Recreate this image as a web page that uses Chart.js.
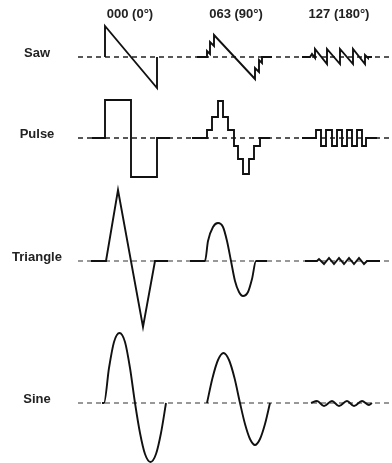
<!DOCTYPE html>
<html>
<head>
<meta charset="utf-8">
<script src="https://cdn.jsdelivr.net/npm/chart.js@4"></script>
<style>
  body { margin: 0; background: #fff; }
</style>
</head>
<body>
<canvas id="myChart" width="392" height="463"></canvas>
<script>
// rows / columns of the diagram
var rowNames = ['Saw', 'Pulse', 'Triangle', 'Sine'];
var baselines = [57, 138, 261, 403];
var colNames = ['000 (0°)', '063 (90°)', '127 (180°)'];
var colCenters = [130, 236, 339];

// waveforms: [time, level above the dashed zero line]
var saw000 = [[105,0],[105,31],[157,-31],[157,0]];
var saw063 = [[197,0],[207,0],[207,6],[210,3],[210,15],[214,11],[214,22],[255,-22],[255,-11],[259,-15],[259,-3],[262,-6],[262,0],[272,0]];
var saw127 = [[302,0],[310,0],[312,3],[315,-1],[315,8],[327,-7],[327,8],[340,-7],[340,8],[353,-7],[353,8],[365,-7],[365,2],[368,-1],[368,0],[372,0]];

var pulse000 = [[92,0],[105,0],[105,38],[131,38],[131,-39],[157,-39],[157,0],[170,0]];
var pulse063 = [[192,0],[207,0],[207,8],[212,8],[212,21],[218,21],[218,37],[223,37],[223,21],[228,21],[228,8],[234,8],[234,-8],[238,-8],[238,-21],[243,-21],[243,-36],[249,-36],[249,-21],[254,-21],[254,-8],[260,-8],[260,0],[270,0]];
var pulse127 = [[302,0],[316,0],[316,8],[321,8],[321,-8],[326,-8],[326,8],[332,8],[332,-8],[337,-8],[337,8],[342,8],[342,-8],[347,-8],[347,8],[352,8],[352,-8],[357,-8],[357,8],[362,8],[362,-8],[366,-8],[366,0],[377,0]];

var tri000 = [[91,0],[106,0],[118,71],[143,-66],[155,0],[168,0]];
var tri063 = [[190,0],[205,0],[208,20],[213,34],[218,38],[223,34],[227,20],[231,0],[235,-20],[239,-31],[243,-35],[248,-31],[252,-18],[256,0],[267,0]];
var tri127 = [[305,0],[317,0],[319,2],[324,-3],[329,3],[334,-3],[339,3],[344,-3],[349,3],[354,-3],[359,3],[364,-3],[367,0],[380,0]];

var sine000 = [[102,0],[104,0],[109,35],[114,61],[119.5,70],[125,61],[130,35],[135,0],[140,-30],[145,-51],[150.5,-59],[156,-51],[161,-30],[166,0]];
var sine063 = [[207,0],[212.5,25],[218,43],[223.5,50],[229,43],[234.5,25],[240,0],[245,-21],[250,-36],[255,-42],[260,-36],[265,-21],[270,0]];
var sine127 = [[311,0],[317,2],[324,-3],[332,2],[339,-3],[347,2],[354,-3],[362,2],[369,-2],[372,0]];

var waves = [
	[saw000, saw063, saw127],
	[pulse000, pulse063, pulse127],
	[tri000, tri063, tri127],
	[sine000, sine063, sine127]
];
var smooth = [
	[false, false, false],
	[false, false, false],
	[false, true, false],
	[true, true, true]
];
var dashColors = ['#222', '#222', '#777', '#777'];

var datasets = [];

for (var r = 0; r < rowNames.length; r++) {
	// dashed zero line for the row
	datasets.push({
		data: [{x: 78, y: baselines[r]}, {x: 392, y: baselines[r]}],
		borderColor: dashColors[r],
		borderWidth: 1.5,
		borderDash: [5, 4],
		pointRadius: 0,
		order: 2
	});
	for (var c = 0; c < 3; c++) {
		var pts = waves[r][c].map(function(p) {
			return {x: p[0], y: baselines[r] - p[1]};
		});
		datasets.push({
			data: pts,
			borderColor: '#111',
			borderWidth: 1.9,
			borderJoinStyle: 'miter',
			pointRadius: 0,
			cubicInterpolationMode: smooth[r][c] ? 'monotone' : 'default',
			tension: 0,
			order: 1
		});
	}
}

var textPlugin = {
	id: 'texts',
	afterDraw: function(chart) {
		var ctx = chart.ctx;
		var x = chart.scales.x, y = chart.scales.y;
		ctx.save();
		ctx.font = 'bold 13px "Liberation Sans", Arial, sans-serif';
		ctx.fillStyle = '#222';
		ctx.textAlign = 'center';
		ctx.textBaseline = 'middle';
		for (var i = 0; i < colNames.length; i++) {
			ctx.fillText(colNames[i], x.getPixelForValue(colCenters[i]), y.getPixelForValue(14));
		}
		for (var j = 0; j < rowNames.length; j++) {
			ctx.fillText(rowNames[j], x.getPixelForValue(37), y.getPixelForValue(baselines[j] - 4));
		}
		ctx.restore();
	}
};

var ctx = document.getElementById('myChart');
var myChart = new Chart(ctx, {
	type: 'line',
	data: { datasets: datasets },
	options: {
		responsive: false,
		animation: false,
		events: [],
		clip: false,
		layout: { padding: 0 },
		plugins: { legend: { display: false }, tooltip: { enabled: false } },
		scales: {
			x: { type: 'linear', min: 0, max: 392, display: false },
			y: { type: 'linear', min: 0, max: 463, reverse: true, display: false }
		}
	},
	plugins: [textPlugin]
});
</script>
</body>
</html>
